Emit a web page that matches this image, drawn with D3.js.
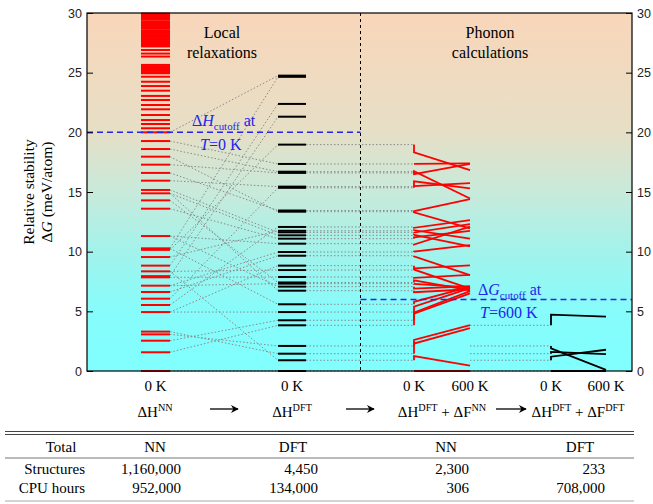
<!DOCTYPE html>
<html><head><meta charset="utf-8">
<script src="https://cdn.jsdelivr.net/npm/d3@7"></script>
<style>body{margin:0;background:#fff}svg{display:block}</style>
</head><body><svg id="c" width="653" height="504"></svg>
<script>
// ---------- DATA ----------
const yTicks = [0,5,10,15,20,25,30];
// NN 0 K relative enthalpies (meV/atom)
const nnLevels = [29.95,29.85,29.75,29.65,29.55,29.45,29.3,29.2,29.1,29.0,28.9,28.8,28.7,28.55,28.45,28.35,28.25,28.15,28.0,27.9,27.8,27.7,27.6,27.5,27.4,27.3,27.2,
  26.9,26.6,26.35,25.65,25.55,25.45,25.35,25.25,25.15,25.05,24.95,24.66,24.24,23.88,23.49,23.05,22.71,22.29,21.93,21.45,21.03,20.7,20.34,20.0,
  19.27,18.6,17.96,17.29,16.6,15.95,15.17,14.89,14.3,13.6,11.31,10.28,10.15,9.55,8.83,8.35,7.95,7.85,7.15,6.62,6.06,5.53,4.94,3.3,3.07,2.54,1.57,0];
// DFT 0 K relative enthalpies
const dftLevels = [24.75,24.65,22.38,21.31,18.97,17.35,16.7,16.6,15.45,15.35,13.45,13.35,12.07,11.75,11.62,11.37,11.09,10.67,9.97,9.66,8.83,8.46,7.88,7.42,7.32,7.07,6.73,5.59,4.94,4.25,3.83,2.1,1.45,0.9,0];
// NN partner level of each DFT level (same order)
const nnPartner = [20.0,10.28,8.83,7.95,10.15,19.27,18.6,17.29,15.95,6.06,16.6,17.96,5.53,9.55,15.17,14.89,13.6,11.31,7.15,6.62,4.94,8.35,7.85,14.3,7.15,11.31,14.89,10.28,4.94,2.54,1.57,3.07,3.3,8.35,0];
// Phonon NN: [DFT 0K level, G at 0 K, G at 600 K]
const phonNN = [[18.97,18.33,16.84],[17.35,17.35,17.4],[16.7,16.5,17.35],[16.6,16.75,14.45],[15.45,15.9,15.3],[15.35,15.5,15.75],
  [13.45,13.4,14.4],[13.35,13.3,11.95],[12.07,12.0,12.65],[11.75,11.8,11.1],[11.62,11.6,12.3],[11.37,11.4,10.45],[11.09,11.2,11.75],
  [10.67,10.6,12.1],[9.97,10.0,10.55],[9.66,9.6,8.04],[8.83,8.6,8.85],[8.46,8.5,6.9],[7.88,7.8,8.05],[7.42,7.6,6.75],[7.32,7.3,7.0],
  [7.07,6.9,7.1],[6.73,6.6,6.85],[5.59,5.8,7.05],[4.94,5.4,6.95],[4.25,4.9,6.7],[3.83,4.8,6.5],[2.1,2.6,3.85],[1.45,2.3,3.6],[0.9,1.25,0.45],[0,0,0]];
// levels passing ΔG cutoff to DFT phonons
const passLevels = [3.83,2.1,1.45,0.9,0];
// Phonon DFT: [DFT 0K level, G at 0 K, G at 600 K]
const phonDFT = [[3.83,4.72,4.55],[2.1,1.9,0.1],[1.45,1.6,1.42],[0.9,1.2,1.78],[0,0,0]];
const temps = [0,600];
const cutH = 20, cutG = 6;
const tableHead = ["Total","NN","DFT","NN","DFT"];
const rowStruct = ["Structures","1,160,000","4,450","2,300","233"];
const rowCPU = ["CPU hours","952,000","134,000","306","708,000"];

// ---------- LAYOUT ----------
const svg = d3.select("#c");
const L=87,R=632,T=13,B=371;
const y = d3.scaleLinear().domain([0,30]).range([B,T]);
const nnX=[141,170], dftX=[278,306];
const tNN = d3.scaleLinear().domain(temps).range([414,470]);
const tDFT = d3.scaleLinear().domain(temps).range([551,606]);
const serif = "'Liberation Serif','Times New Roman',serif";
const sans = "'Liberation Sans',Arial,sans-serif";
const blue = "#2424f0";

// background gradient
const defs = svg.append("defs");
const g = defs.append("linearGradient").attr("id","bg").attr("x1",0).attr("x2",0).attr("y1",0).attr("y2",1);
[[0,"#f9d6ba"],[0.333,"#e6dfc6"],[0.5,"#c8eadb"],[0.667,"#a2f3eb"],[0.833,"#86fcfb"],[1,"#80ffff"]]
  .forEach(([o,c])=>g.append("stop").attr("offset",o).attr("stop-color",c));
svg.append("rect").attr("x",L).attr("y",T).attr("width",R-L).attr("height",B-T).attr("fill","url(#bg)");

const dot = sel => sel.attr("stroke","#8a8a8a").attr("stroke-width",1).attr("stroke-dasharray","1.5,2").attr("fill","none");

// links NN -> DFT
svg.append("g").selectAll("line").data(dftLevels.map((d,i)=>[nnPartner[i],d])).join("line")
  .attr("x1",nnX[1]).attr("x2",dftX[0]).attr("y1",d=>y(d[0])).attr("y2",d=>y(d[1])).call(dot);
// DFT -> phonon NN
svg.append("g").selectAll("line").data(phonNN).join("line")
  .attr("x1",dftX[1]).attr("x2",tNN(0)).attr("y1",d=>y(d[0])).attr("y2",d=>y(d[0])).call(dot);
// phonon NN -> phonon DFT
svg.append("g").selectAll("line").data(passLevels).join("line")
  .attr("x1",tNN(600)).attr("x2",tDFT(0)).attr("y1",d=>y(d)).attr("y2",d=>y(d)).call(dot);

// NN bars
svg.append("g").selectAll("line").data(nnLevels).join("line")
  .attr("x1",nnX[0]).attr("x2",nnX[1]).attr("y1",d=>y(d)).attr("y2",d=>y(d))
  .attr("stroke","#ff0000").attr("stroke-width",2);
// DFT bars
svg.append("g").selectAll("line").data(dftLevels).join("line")
  .attr("x1",dftX[0]).attr("x2",dftX[1]).attr("y1",d=>y(d)).attr("y2",d=>y(d))
  .attr("stroke","#000").attr("stroke-width",2);

// phonon curves
const curve = (ts) => d => {
  const p = d3.path();
  p.moveTo(ts(0), y(d[0])); p.lineTo(ts(0), y(d[1])); p.lineTo(ts(600), y(d[2]));
  return p.toString();
};
svg.append("g").selectAll("path").data(phonNN).join("path").attr("d",curve(tNN))
  .attr("fill","none").attr("stroke","#ff0000").attr("stroke-width",1.8);
svg.append("g").selectAll("path").data(phonDFT).join("path").attr("d",curve(tDFT))
  .attr("fill","none").attr("stroke","#000").attr("stroke-width",1.8);

// vertical separator
svg.append("line").attr("x1",360.5).attr("x2",360.5).attr("y1",T).attr("y2",B)
  .attr("stroke","#000").attr("stroke-width",1).attr("stroke-dasharray","3,3");
// cutoff lines
svg.append("line").attr("x1",L).attr("x2",360.5).attr("y1",y(cutH)).attr("y2",y(cutH))
  .attr("stroke",blue).attr("stroke-width",1.5).attr("stroke-dasharray","6,4");
svg.append("line").attr("x1",360.5).attr("x2",R).attr("y1",y(cutG)).attr("y2",y(cutG))
  .attr("stroke",blue).attr("stroke-width",1.5).attr("stroke-dasharray","6,4");

// text helpers
function rich(x,yy,parts,opts={}){
  const t = svg.append("text").attr("x",x).attr("y",yy).attr("font-family",serif)
    .attr("font-size",opts.size||16).attr("fill",opts.fill||"#000").attr("text-anchor",opts.anchor||"start");
  parts.forEach(p=>{
    const s = t.append("tspan").text(p.t);
    if(p.i) s.attr("font-style","italic");
    if(p.sub){ s.attr("font-size",(opts.size||16)*0.68).attr("dy",4); }
    if(p.sup){ s.attr("font-size",(opts.size||16)*0.68).attr("dy",-6); }
    if(p.back) s.attr("dy",p.back);
  });
  return t;
}
rich(222,38,[{t:"Local"}],{anchor:"middle"});
rich(222,58,[{t:"relaxations"}],{anchor:"middle"});
rich(490,38,[{t:"Phonon"}],{anchor:"middle"});
rich(490,58,[{t:"calculations"}],{anchor:"middle"});
rich(192,126,[{t:"Δ"},{t:"H",i:1},{t:"cutoff",sub:1},{t:" at",back:-4}],{fill:blue});
rich(200,150,[{t:"T",i:1},{t:"=0 K"}],{fill:blue});
rich(478,295,[{t:"Δ"},{t:"G",i:1},{t:"cutoff",sub:1},{t:" at",back:-4}],{fill:blue});
rich(480,318,[{t:"T",i:1},{t:"=600 K"}],{fill:blue});

// axes
const fmt = d3.format("d");
function axis(gen, x){
  const a = svg.append("g").attr("transform",`translate(${x},0)`);
  a.call(gen(y).tickValues(d3.range(0,31,1)).tickSize(x===L?-3:-3).tickFormat(""));
  a.call(gen(y).tickValues(yTicks).tickSize(-6).tickPadding(5).tickFormat(fmt));
  a.selectAll(".domain").remove();
  a.selectAll("line").attr("stroke","#000");
  a.selectAll("text").attr("font-family",sans).attr("font-size",12.5).attr("fill","#222");
  return a;
}
const la = svg.append("g").attr("transform",`translate(${L},0)`);
la.call(d3.axisLeft(y).tickValues(d3.range(0,31,1)).tickSize(-3).tickFormat(""));
la.call(d3.axisLeft(y).tickValues(yTicks).tickSize(-6).tickPadding(5).tickFormat(fmt));
const ra = svg.append("g").attr("transform",`translate(${R},0)`);
ra.call(d3.axisRight(y).tickValues(d3.range(0,31,1)).tickSize(-3).tickFormat(""));
ra.call(d3.axisRight(y).tickValues(yTicks).tickSize(-6).tickPadding(5).tickFormat(fmt));
[la,ra].forEach(a=>{
  a.selectAll(".domain").remove();
  a.selectAll("line").attr("stroke","#000");
  a.selectAll("text").attr("font-family",sans).attr("font-size",12.5).attr("fill","#222");
});
la.selectAll("text").attr("x",-5);
ra.selectAll("text").attr("x",5);
svg.append("rect").attr("x",L).attr("y",T).attr("width",R-L).attr("height",B-T)
  .attr("fill","none").attr("stroke","#000").attr("stroke-width",1.2);

// y title
const yt = svg.append("g").attr("transform","translate(0,192)");
yt.append("text").attr("transform","translate(34,0) rotate(-90)").attr("text-anchor","middle")
  .attr("font-family",serif).attr("font-size",15.5).text("Relative stability");
const yt2 = yt.append("text").attr("transform","translate(52,0) rotate(-90)").attr("text-anchor","middle")
  .attr("font-family",serif).attr("font-size",15.5);
yt2.append("tspan").text("Δ"); yt2.append("tspan").attr("font-style","italic").text("G");
yt2.append("tspan").text(" (meV/atom)");

// bottom labels
const kLab = [[(nnX[0]+nnX[1])/2,"0 K"],[(dftX[0]+dftX[1])/2,"0 K"],[tNN(0),"0 K"],[tNN(600),"600 K"],[tDFT(0),"0 K"],[tDFT(600),"600 K"]];
kLab.forEach(([x,s])=>rich(x,391,[{t:s}],{anchor:"middle",size:15}));
rich(155,417,[{t:"ΔH"},{t:"NN",sup:1}],{anchor:"middle",size:15});
rich(292,417,[{t:"ΔH"},{t:"DFT",sup:1}],{anchor:"middle",size:15});
rich(442,417,[{t:"ΔH"},{t:"DFT",sup:1},{t:" + ΔF",back:6},{t:"NN",sup:1}],{anchor:"middle",size:15});
rich(578,417,[{t:"ΔH"},{t:"DFT",sup:1},{t:" + ΔF",back:6},{t:"NN".replace("NN","DFT"),sup:1}],{anchor:"middle",size:15});
// arrows
defs.append("marker").attr("id","ah").attr("viewBox","0 0 10 10").attr("refX",9).attr("refY",5)
  .attr("markerWidth",7).attr("markerHeight",6).attr("orient","auto")
  .append("path").attr("d","M0,0 L10,5 L0,10 L3,5 z").attr("fill","#000");
[[210,238],[346,374],[496,526]].forEach(([a,b])=>svg.append("line").attr("x1",a).attr("x2",b)
  .attr("y1",409).attr("y2",409).attr("stroke","#000").attr("stroke-width",1.3).attr("marker-end","url(#ah)"));

// table
const tl = (yy,c,w)=>svg.append("line").attr("x1",5).attr("x2",634).attr("y1",yy).attr("y2",yy).attr("stroke",c).attr("stroke-width",w);
tl(431.5,"#444",1.2); tl(434.5,"#444",1.2); tl(458,"#777",1); tl(501,"#aaa",1);
const headX=[61,155,293,446,580];
tableHead.forEach((s,i)=>rich(headX[i],452,[{t:s}],{anchor:"middle",size:15}));
const valX=[85,181,318,469,605];
[[rowStruct,474],[rowCPU,493]].forEach(([row,yy])=>row.forEach((s,i)=>rich(valX[i],yy,[{t:s}],{anchor:"end",size:15})));
</script></body></html>
